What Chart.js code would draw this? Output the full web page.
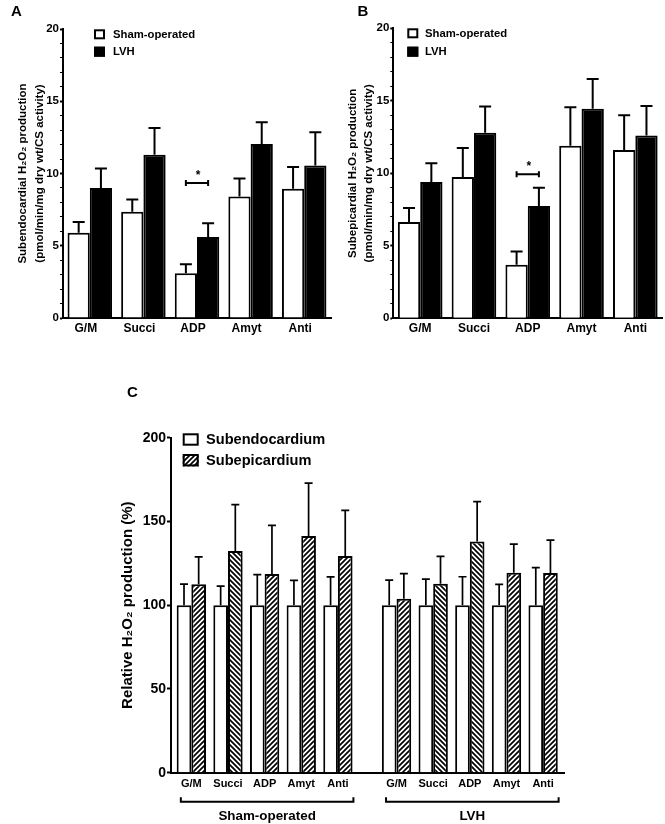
<!DOCTYPE html>
<html>
<head>
<meta charset="utf-8">
<script src="https://cdn.jsdelivr.net/npm/chart.js@4.4.1/dist/chart.umd.min.js"></script>
<style>
  html, body { margin: 0; padding: 0; background: #fff; width: 665px; height: 824px; overflow: hidden; }
  .wrap { position: absolute; }
  canvas { display: block; }
</style>
</head>
<body>
<div class="wrap" style="left:0px;top:0px;width:336px;height:345px"><canvas id="chartA"></canvas></div>
<div class="wrap" style="left:330px;top:0px;width:335px;height:345px"><canvas id="chartB"></canvas></div>
<div class="wrap" style="left:100px;top:380px;width:480px;height:444px"><canvas id="chartC"></canvas></div>
<script>
// ---------------- data ----------------
const categories = ['G/M', 'Succi', 'ADP', 'Amyt', 'Anti'];
const groupNames = ['Sham-operated', 'LVH'];
const layerNames = ['Subendocardium', 'Subepicardium'];
const yTicksAB = [0, 5, 10, 15, 20];
const yTicksC = [0, 50, 100, 150, 200];
const titleA = ['Subendocardial H\u2082O\u2082 production', '(pmol/min/mg dry wt/CS activity)'];
const titleB = ['Subepicardial H\u2082O\u2082 production', '(pmol/min/mg dry wt/CS activity)'];
const titleC = 'Relative H\u2082O\u2082 production (%)';

// Panel A: subendocardial
const endoSham = [5.9, 7.35, 3.1, 8.4, 8.95];
const endoShamSem = [0.75, 0.85, 0.62, 1.25, 1.5];
const endoLvh = [9.0, 11.3, 5.6, 12.05, 10.55];
const endoLvhSem = [1.35, 1.85, 0.95, 1.5, 2.3];

// Panel B: subepicardial
const epiSham = [6.65, 9.75, 3.7, 11.9, 11.6];
const epiShamSem = [0.95, 2.0, 0.9, 2.65, 2.4];
const epiLvh = [9.4, 12.8, 7.75, 14.45, 12.6];
const epiLvhSem = [1.3, 1.8, 1.25, 2.05, 2.05];

// Panel C: relative production (%)
const relEndoSham = [100, 100, 100, 100, 100];
const relEndoShamSem = [12.6, 11.4, 18.2, 14.8, 16.9];
const relEpiSham = [112.5, 132.4, 118.6, 141.3, 129.4];
const relEpiShamSem = [16.4, 27.6, 29.1, 31.6, 27.2];
const relEndoLvh = [100, 100, 100, 100, 100];
const relEndoLvhSem = [15.0, 15.6, 17.0, 12.4, 22.4];
const relEpiLvh = [103.9, 112.8, 138.1, 119.4, 119.2];
const relEpiLvhSem = [14.9, 16.4, 23.7, 17.1, 19.7];
const hatchSham = ['/', '\\', '/', '/', '/'];
const hatchLvh = ['/', '\\', '\\', '/', '/'];

// significance markers
const sigCategory = 'ADP';
const sigLevelA = 9.35;
const sigLevelB = 9.93;

// ---------------- setup ----------------
const FONT = '"Liberation Sans", Arial, Helvetica, sans-serif';
Chart.defaults.font.family = FONT;
Chart.defaults.font.weight = 'bold';
Chart.defaults.color = '#000';

function makeHatch(dir) {
  const s = 5;
  const c = document.createElement('canvas');
  c.width = s; c.height = s;
  const g = c.getContext('2d');
  g.fillStyle = '#fff'; g.fillRect(0, 0, s, s);
  g.strokeStyle = '#000'; g.lineWidth = 1.7;
  g.beginPath();
  if (dir === '/') {
    g.moveTo(-1, s + 1); g.lineTo(s + 1, -1);
    g.moveTo(-1, 1); g.lineTo(1, -1);
    g.moveTo(s - 1, s + 1); g.lineTo(s + 1, s - 1);
  } else {
    g.moveTo(-1, -1); g.lineTo(s + 1, s + 1);
    g.moveTo(s - 1, -1); g.lineTo(s + 1, 1);
    g.moveTo(-1, s - 1); g.lineTo(1, s + 1);
  }
  g.stroke();
  return g.createPattern(c, 'repeat');
}

// ---------------- plugins ----------------
const errorBarsPlugin = {
  id: 'errorBars',
  afterDatasetsDraw(chart, args, o) {
    const ctx = chart.ctx, ys = chart.scales.y;
    ctx.save();
    ctx.strokeStyle = '#000'; ctx.lineWidth = o.lineWidth; ctx.lineCap = 'butt';
    chart.data.datasets.forEach((ds, di) => {
      if (!ds.errors) return;
      const meta = chart.getDatasetMeta(di);
      meta.data.forEach((bar, i) => {
        const raw = ds.data[i];
        const v = (typeof raw === 'object') ? raw.y : raw;
        const top = ys.getPixelForValue(v + ds.errors[i]);
        const x = bar.x;
        ctx.beginPath();
        ctx.moveTo(x, bar.y); ctx.lineTo(x, top);
        ctx.moveTo(x - o.cap / 2, top); ctx.lineTo(x + o.cap / 2, top);
        ctx.stroke();
      });
    });
    ctx.restore();
  }
};

const boxLegendPlugin = {
  id: 'boxLegend',
  afterDraw(chart, args, o) {
    const ctx = chart.ctx;
    ctx.save();
    chart.data.datasets.forEach((ds, i) => {
      const x = o.x, y = o.y + i * o.rowGap;
      ctx.fillStyle = ds.legendFill;
      ctx.fillRect(x, y, o.w, o.h);
      ctx.strokeStyle = '#000'; ctx.lineWidth = 2;
      ctx.strokeRect(x + 1, y + 1, o.w - 2, o.h - 2);
      ctx.fillStyle = '#000';
      ctx.font = 'bold ' + o.fontSize + 'px ' + FONT;
      ctx.textAlign = 'left'; ctx.textBaseline = 'middle';
      ctx.fillText(ds.label, o.textX, y + o.h / 2 + 0.5);
    });
    ctx.restore();
  }
};

const sigPlugin = {
  id: 'sigBracket',
  afterDatasetsDraw(chart, args, o) {
    const ctx = chart.ctx;
    const idx = chart.data.labels.indexOf(o.category);
    const x0 = chart.getDatasetMeta(0).data[idx].x;
    const x1 = chart.getDatasetMeta(1).data[idx].x;
    const y = chart.scales.y.getPixelForValue(o.level);
    ctx.save();
    ctx.strokeStyle = '#000'; ctx.lineWidth = 2;
    ctx.beginPath();
    ctx.moveTo(x0, y); ctx.lineTo(x1, y);
    ctx.moveTo(x0, y - 3); ctx.lineTo(x0, y + 3);
    ctx.moveTo(x1, y - 3); ctx.lineTo(x1, y + 3);
    ctx.stroke();
    ctx.fillStyle = '#000';
    ctx.font = 'bold 12px ' + FONT;
    ctx.textAlign = 'center'; ctx.textBaseline = 'alphabetic';
    ctx.fillText('*', (x0 + x1) / 2 + 1, y - 4);
    ctx.restore();
  }
};

const letterPlugin = {
  id: 'panelLetter',
  afterDraw(chart, args, o) {
    const ctx = chart.ctx;
    ctx.save();
    ctx.fillStyle = '#000';
    ctx.font = 'bold ' + o.size + 'px ' + FONT;
    ctx.textAlign = 'center'; ctx.textBaseline = 'middle';
    ctx.fillText(o.text, o.x, o.y);
    ctx.restore();
  }
};

// ---------------- panels A & B ----------------
function abConfig(sham, shamSem, lvh, lvhSem, title, lay) {
  return {
    type: 'bar',
    data: {
      labels: categories,
      datasets: [
        { label: groupNames[0], data: sham, errors: shamSem, backgroundColor: '#fff', legendFill: '#fff',
          borderColor: '#000', borderWidth: 2, categoryPercentage: 0.83, barPercentage: 1 },
        { label: groupNames[1], data: lvh, errors: lvhSem, backgroundColor: '#000', legendFill: '#000',
          borderColor: '#000', borderWidth: 2, categoryPercentage: 0.83, barPercentage: 1 }
      ]
    },
    plugins: [errorBarsPlugin, boxLegendPlugin, sigPlugin, letterPlugin],
    options: {
      responsive: true, maintainAspectRatio: false, animation: false,
      layout: { padding: { top: lay.top, right: lay.right, left: 0, bottom: 0 } },
      plugins: {
        legend: { display: false }, tooltip: { enabled: false },
        errorBars: { lineWidth: 2, cap: 12 },
        boxLegend: lay.legend,
        sigBracket: { category: sigCategory, level: lay.sig },
        panelLetter: lay.letter
      },
      scales: {
        x: {
          type: 'category', offset: true,
          grid: { display: false, drawTicks: false },
          border: { display: true, color: '#000', width: 2 },
          ticks: { color: '#000', font: { size: 12, weight: 'bold' }, padding: 3, labelOffset: lay.labelOffset,
                   maxRotation: 0, autoSkip: false },
          afterFit: s => { s.height = lay.xh; }
        },
        y: {
          min: 0, max: 20,
          ticks: { stepSize: 1, autoSkip: false, padding: 1, color: '#000', font: { size: 11.5, weight: 'bold' },
                   callback: v => yTicksAB.includes(v) ? String(v) : '' },
          grid: { display: true, drawOnChartArea: false, drawTicks: true, tickLength: 3, tickColor: '#000',
                  tickWidth: c => (c.tick && yTicksAB.includes(c.tick.value)) ? 2 : 1 },
          border: { display: true, color: '#000', width: 2 },
          title: { display: true, text: title, color: '#000', font: { size: 11.5, weight: 'bold', lineHeight: 1.45 },
                   padding: { top: lay.titlePad, bottom: 0 } },
          afterFit: s => { s.width = lay.yw; }
        }
      }
    }
  };
}

new Chart(document.getElementById('chartA'), abConfig(endoSham, endoShamSem, endoLvh, endoLvhSem, titleA, {
  top: 29, right: 5, xh: 27, yw: 63, titlePad: 14.6, labelOffset: -4, sig: sigLevelA,
  legend: { x: 94, y: 29.3, w: 11, h: 10, rowGap: 17.4, textX: 113, fontSize: 11.3 },
  letter: { text: 'A', x: 16.5, y: 11.5, size: 15 }
}));

new Chart(document.getElementById('chartB'), abConfig(epiSham, epiShamSem, epiLvh, epiLvhSem, titleB, {
  top: 28.3, right: 2.8, xh: 26.7, yw: 63.3, titlePad: 14.3, labelOffset: 0, sig: sigLevelB,
  legend: { x: 77.3, y: 28.3, w: 11, h: 10, rowGap: 18.4, textX: 95, fontSize: 11.3 },
  letter: { text: 'B', x: 33, y: 11.5, size: 15 }
}));

// ---------------- panel C ----------------
const groupGap = 0.6;
const xPosC = groupNames.flatMap((g, gi) => categories.map((c, ci) => ci + gi * (categories.length + groupGap)));
const xLabelsC = groupNames.flatMap(() => categories);
const endoAll = relEndoSham.concat(relEndoLvh);
const epiAll = relEpiSham.concat(relEpiLvh);
const hatchAll = hatchSham.concat(hatchLvh).map(makeHatch);

const groupBracketPlugin = {
  id: 'groupBrackets',
  afterDraw(chart, args, o) {
    const ctx = chart.ctx, xs = chart.scales.x;
    ctx.save();
    ctx.strokeStyle = '#000'; ctx.lineWidth = 2; ctx.fillStyle = '#000';
    ctx.font = 'bold ' + o.fontSize + 'px ' + FONT;
    ctx.textAlign = 'center'; ctx.textBaseline = 'middle';
    groupNames.forEach((name, g) => {
      const first = xPosC[g * categories.length];
      const last = xPosC[(g + 1) * categories.length - 1];
      const l = xs.getPixelForValue(first) - o.left;
      const r = xs.getPixelForValue(last) + o.right;
      ctx.beginPath();
      ctx.moveTo(l, o.y - o.tick); ctx.lineTo(l, o.y); ctx.lineTo(r, o.y); ctx.lineTo(r, o.y - o.tick);
      ctx.stroke();
      ctx.fillText(name, (l + r) / 2, o.labelY);
    });
    ctx.restore();
  }
};

new Chart(document.getElementById('chartC'), {
  type: 'bar',
  data: {
    datasets: [
      { label: layerNames[0], data: xPosC.map((x, i) => ({ x: x, y: endoAll[i] })),
        errors: relEndoShamSem.concat(relEndoLvhSem),
        backgroundColor: '#fff', legendFill: '#fff', borderColor: '#000', borderWidth: 2,
        categoryPercentage: 0.8, barPercentage: 1 },
      { label: layerNames[1], data: xPosC.map((x, i) => ({ x: x, y: epiAll[i] })),
        errors: relEpiShamSem.concat(relEpiLvhSem),
        backgroundColor: hatchAll, legendFill: makeHatch('/'), borderColor: '#000', borderWidth: 2,
        categoryPercentage: 0.8, barPercentage: 1 }
    ]
  },
  plugins: [errorBarsPlugin, boxLegendPlugin, letterPlugin, groupBracketPlugin],
  options: {
    responsive: true, maintainAspectRatio: false, animation: false,
    layout: { padding: { top: 57.7, right: 16, left: 0, bottom: 0 } },
    plugins: {
      legend: { display: false }, tooltip: { enabled: false },
      errorBars: { lineWidth: 1.7, cap: 8 },
      boxLegend: { x: 82.7, y: 53.3, w: 16, h: 12.4, rowGap: 20.7, textX: 106, fontSize: 14.6 },
      panelLetter: { text: 'C', x: 32.3, y: 13.3, size: 15 },
      groupBrackets: { left: 10.5, right: 15.5, y: 421.7, tick: 4.5, labelY: 436, fontSize: 13.4 }
    },
    scales: {
      x: {
        type: 'linear', min: -0.555, max: 10.17, offset: false,
        grid: { display: false, drawTicks: false },
        border: { display: true, color: '#000', width: 2 },
        afterBuildTicks: s => { s.ticks = xPosC.map(v => ({ value: v })); },
        ticks: { autoSkip: false, maxRotation: 0, padding: 5, color: '#000', font: { size: 11, weight: 'bold' },
                 callback: (v, i) => xLabelsC[i] },
        afterFit: s => { s.height = 51.3; }
      },
      y: {
        min: 0, max: 200,
        afterBuildTicks: s => { s.ticks = yTicksC.map(v => ({ value: v })); },
        ticks: { autoSkip: false, padding: 1, color: '#000', font: { size: 14, weight: 'bold' } },
        grid: { display: true, drawOnChartArea: false, drawTicks: true, tickLength: 4, tickWidth: 2, tickColor: '#000' },
        border: { display: true, color: '#000', width: 2 },
        title: { display: true, text: titleC, color: '#000', font: { size: 15, weight: 'bold', lineHeight: 1.2 },
                 padding: { top: 19, bottom: 0 } },
        afterFit: s => { s.width = 71; }
      }
    }
  }
});
</script>
</body>
</html>
